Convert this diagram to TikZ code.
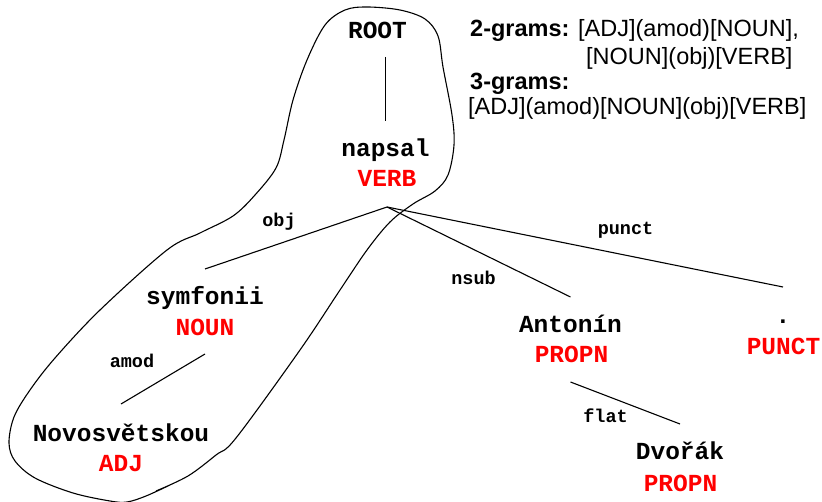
\documentclass[tikz,border=0pt]{standalone}
\usepackage{fontspec}
\setmainfont{Liberation Sans}
\newfontfamily\monofont{Liberation Mono}
\usetikzlibrary{calc}
\definecolor{tagred}{RGB}{255,0,0}
\tikzset{
  word/.style={anchor=base, inner sep=0pt, font=\monofont\bfseries\fontsize{24.5}{26}\selectfont},
  tag/.style={word, text=tagred},
  dep/.style={anchor=base, inner sep=0pt, font=\monofont\bfseries\fontsize{18.5}{20}\selectfont},
  gram/.style={anchor=base west, inner sep=0pt, font=\fontsize{23.5}{26}\selectfont},
  edge/.style={line width=1.1pt, draw=black},
  blob/.style={line width=1.1pt, draw=black},
}
\begin{document}
\begin{tikzpicture}[x=1pt,y=-1pt]
\useasboundingbox (0,0) rectangle (822,502);

% tokens
\node[word] (root) at (377.5,39) {ROOT};
\node[word] (napsal) at (385.5,157) {napsal};
\node[tag]  (verb) at (387,187) {VERB};
\node[word] (symfonii) at (205,305) {symfonii};
\node[tag]  (noun) at (205,336) {NOUN};
\node[word] (novo) at (121,441) {Novosvětskou};
\node[tag]  (adj) at (121,471) {ADJ};
\node[word] (antonin) at (570.5,333) {Antonín};
\node[tag]  (propnA) at (571.5,363) {PROPN};
\node[word] (dvorak) at (680,459) {Dvořák};
\node[tag]  (propnD) at (680.5,491) {PROPN};
\node[word] (dot) at (783,324) {.};
\node[tag]  (punct) at (783.5,355) {PUNCT};

% connectors
\draw[edge] ($(napsal.base |- root.base)+(0,18)$) -- ($(napsal.base)+(0,-36)$);
\draw[edge] ($(verb.base)+(0,20)$) -- ($(symfonii.base)+(0,-36)$);
\draw[edge] ($(verb.base)+(0,20)$) -- ($(antonin.base)+(0,-36)$);
\draw[edge] ($(verb.base)+(0,20)$) -- ($(dot.base)+(0,-37)$);
\draw[edge] ($(noun.base)+(0,18)$) -- ($(novo.base)+(0,-37)$);
\draw[edge] ($(propnA.base)+(-1,19)$) -- ($(dvorak.base)+(0,-35)$);

% dependency labels
\node[dep] (lobj) at (279,227) {obj};
\node[dep] (lnsub) at (473.5,285) {nsub};
\node[dep] (lpunct) at (625.5,235) {punct};
\node[dep] (lamod) at (132,368) {amod};
\node[dep] (lflat) at (605.5,423) {flat};

% n-gram text
\node[gram] (g2) at (470,37) {\textbf{2-grams:} [ADJ](amod)[NOUN],};
\node[gram] (g2b) at (586,65) {[NOUN](obj)[VERB]};
\node[gram] (g3) at (470,90) {\textbf{3-grams:}};
\node[gram] (g3b) at (468,115) {[ADJ](amod)[NOUN](obj)[VERB]};

% outline
\draw[blob] plot[smooth, tension=0.55] coordinates {
 (156,491) (188,476) (216,455) (236,438) (300,350) (340,290) (367,250)
 (390,222) (413,204) (435,191) (448,175) (454,145) (452,115) (443,67)
 (438,36) (425,19) (400,10) (367,7) (345,10) (325,25) (307,60) (293,100)
 (284,140) (276,168) (255,195) (233,216) (200,233) (167,250) (100,310)
 (55,358) (30,390) (14,417) (9,443) (15,461) (35,478) (73,493) (110,501)
 (127,502) (146,496) (170,485)};
\end{tikzpicture}
\end{document}
